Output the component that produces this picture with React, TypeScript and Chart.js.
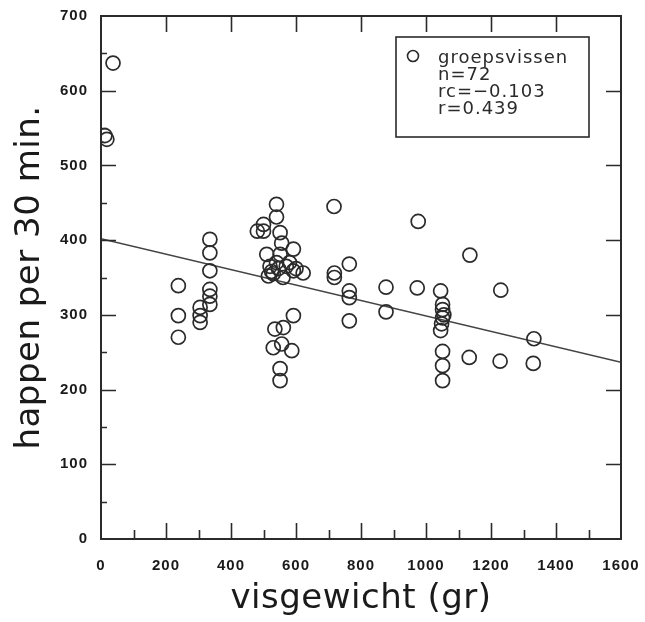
import React, { useEffect, useRef } from "react";
import { Chart, registerables } from "chart.js";

Chart.register(...registerables);

// fish weight (g)
const visgewicht = [
  37, 12, 18,
  238, 238, 238,
  305, 305, 305,
  335, 335, 335, 335, 335, 335,
  540, 540, 500, 481, 551, 556, 592, 510, 551, 592, 622, 515, 525, 546, 570, 560, 530,
  592, 535, 561, 530, 556, 587, 551, 551,
  717, 718, 718, 764, 764, 764, 764,
  877, 877, 973, 976,
  1045, 1051, 1051, 1051, 1045, 1051, 1051, 1051, 1048, 1055,
  1135, 1133, 1230, 1228, 1332, 1330,
  500, 540, 580, 520, 600,
];
// bites per 30 min
const happen = [
  637, 540, 535,
  339, 299, 270,
  310, 299, 290,
  401, 383, 359, 334, 325, 314,
  448, 431, 421, 412, 410, 396, 388, 381, 381, 359, 356, 352, 358, 362, 365, 350, 355,
  299, 281, 283, 256, 261, 252, 228, 212,
  445, 356, 350, 368, 332, 323, 292,
  337, 304, 336, 425,
  332, 314, 307, 296, 279, 251, 232, 212, 288, 300,
  380, 243, 333, 238, 268, 235,
  412, 370, 370, 365, 362,
];

const legendLines = ["groepsvissen", "n=72", "rc=\u22120.103", "r=0.439"];
const fitIntercept = 402;
const fitSlope = -0.1035;
const xRange = [0, 1600];
const yRange = [0, 700];

const INK = "#2b2b2b";

function styleScale(s: any, labelSp: string, titleSp: string, tdx: number, tdy: number) {
  if (s._styled) return;
  s._styled = true;
  const dl = s.drawLabels.bind(s);
  const dt = s.drawTitle.bind(s);
  s.drawLabels = (ca: any) => {
    const c = s.ctx;
    c.save();
    c.letterSpacing = labelSp;
    dl(ca);
    c.restore();
  };
  s.drawTitle = (ca: any) => {
    const c = s.ctx;
    c.save();
    c.letterSpacing = titleSp;
    c.translate(tdx, tdy);
    dt(ca);
    c.restore();
  };
}

const framePlugin = {
  id: "frameTicks",
  afterDraw(chart: any) {
    const { ctx, chartArea: a } = chart;
    const xs = chart.scales.x;
    const ys = chart.scales.y;
    ctx.save();
    ctx.strokeStyle = INK;
    ctx.lineWidth = 2;
    ctx.strokeRect(a.left, a.top, a.right - a.left, a.bottom - a.top);
    ctx.lineWidth = 1.6;
    ctx.beginPath();
    for (let v = 100; v < 1600; v += 100) {
      const px = Math.round(xs.getPixelForValue(v)) + 0.5;
      const len = v % 200 === 0 ? 16 : 9;
      ctx.moveTo(px, a.bottom);
      ctx.lineTo(px, a.bottom - len);
      if (v % 200 === 0) {
        ctx.moveTo(px, a.top);
        ctx.lineTo(px, a.top + 16);
      }
    }
    for (let v = 50; v < 700; v += 50) {
      const py = Math.round(ys.getPixelForValue(v)) + 0.5;
      const len = v % 100 === 0 ? 15 : 6;
      ctx.moveTo(a.left, py);
      ctx.lineTo(a.left + len, py);
      if (v % 100 === 0) {
        ctx.moveTo(a.right, py);
        ctx.lineTo(a.right - 15, py);
      }
    }
    ctx.stroke();

    // legend box
    const bx = a.left + 295;
    const by = a.top + 21;
    const bw = 193;
    const bh = 100;
    ctx.fillStyle = "#fff";
    ctx.fillRect(bx, by, bw, bh);
    ctx.lineWidth = 1.6;
    ctx.strokeRect(bx, by, bw, bh);
    ctx.beginPath();
    ctx.arc(bx + 17, by + 19, 5.5, 0, Math.PI * 2);
    ctx.stroke();
    ctx.fillStyle = INK;
    ctx.font = "18px 'DejaVu Sans'";
    ctx.letterSpacing = "1px";
    ctx.textBaseline = "middle";
    ctx.textAlign = "left";
    legendLines.forEach((t, i) => {
      ctx.fillText(t, bx + 42, by + 21 + i * 17);
    });
    ctx.restore();
  },
};

export default function App() {
  const ref = useRef<HTMLCanvasElement>(null);
  useEffect(() => {
    const points = visgewicht.map((x, i) => ({ x, y: happen[i] }));
    const fit = xRange.map((x) => ({ x, y: fitIntercept + fitSlope * x }));
    const tickFont = { family: "'Liberation Sans'", size: 15, weight: "bold" as const };
    const chart = new Chart(ref.current!, {
      type: "scatter",
      data: {
        datasets: [
          {
            label: "groepsvissen",
            data: points,
            pointStyle: "circle",
            pointRadius: 7,
            pointBorderWidth: 1.7,
            pointBorderColor: INK,
            pointBackgroundColor: "rgba(0,0,0,0)",
            showLine: false,
          },
          {
            label: "fit",
            type: "line",
            data: fit,
            borderColor: "#444",
            borderWidth: 1.5,
            pointRadius: 0,
            fill: false,
          },
        ],
      },
      options: {
        responsive: false,
        animation: false,
        layout: { padding: { left: 0, top: 16, right: 24, bottom: 0 } },
        plugins: { legend: { display: false }, tooltip: { enabled: false } },
        scales: {
          x: {
            type: "linear",
            min: xRange[0],
            max: xRange[1],
            afterFit(s: any) {
              s.height = 83;
              s.paddingLeft = 0;
              s.paddingRight = 0;
              styleScale(s, "1px", "0.5px", 0, 0);
            },
            border: { display: false },
            grid: { display: false, drawTicks: false },
            ticks: {
              stepSize: 200,
              padding: 18,
              color: "#1a1a1a",
              font: tickFont,
              callback: (v: any) => String(v),
            },
            title: {
              display: true,
              text: "visgewicht (gr)",
              color: "#1a1a1a",
              padding: { top: 0, bottom: 2 },
              font: { family: "'DejaVu Sans'", size: 34 },
            },
          },
          y: {
            type: "linear",
            min: yRange[0],
            max: yRange[1],
            afterFit(s: any) {
              s.width = 101;
              s.paddingTop = 0;
              s.paddingBottom = 0;
              styleScale(s, "1px", "0.5px", 0, 0);
            },
            border: { display: false },
            grid: { display: false, drawTicks: false },
            ticks: {
              stepSize: 100,
              padding: 13,
              color: "#1a1a1a",
              font: tickFont,
              callback: (v: any) => String(v),
            },
            title: {
              display: true,
              text: "happen per 30 min.",
              color: "#1a1a1a",
              padding: { top: 10, bottom: 0 },
              font: { family: "'DejaVu Sans'", size: 34 },
            },
          },
        },
      },
      plugins: [framePlugin],
    });
    return () => chart.destroy();
  }, []);
  return (
    <div style={{ position: "absolute", left: 0, top: 0, width: 645, height: 622, background: "#fff" }}>
      <canvas ref={ref} width={645} height={622} />
    </div>
  );
}
